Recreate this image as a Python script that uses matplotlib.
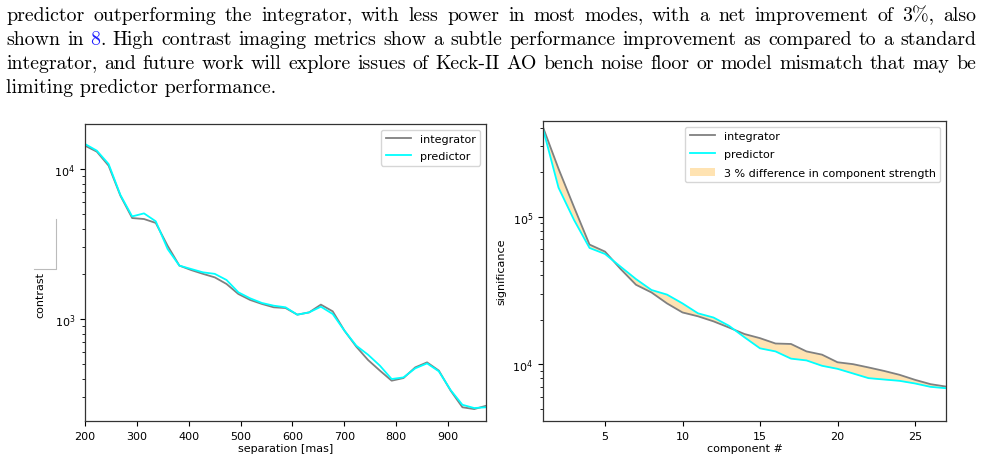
import matplotlib
matplotlib.use('Agg')
import matplotlib.pyplot as plt
from matplotlib.lines import Line2D

# ---- data ----
separation = [200.0, 222.8, 245.5, 268.3, 291.0, 313.8, 336.5, 359.3, 382.0, 404.8,
              427.5, 450.3, 473.0, 495.8, 518.5, 541.3, 564.0, 586.8, 609.5, 632.3,
              655.0, 677.8, 700.5, 723.3, 746.0, 768.8, 791.5, 814.3, 837.0, 859.8,
              882.5, 905.3, 928.0, 950.8, 973.5]
contrast_integrator = [14300, 13050, 10530, 6640, 4710, 4640, 4370, 3080, 2270, 2120,
                       2000, 1895, 1712, 1468, 1340, 1260, 1197, 1184, 1069, 1107,
                       1247, 1125, 836, 654, 533, 453, 388, 404, 476, 514,
                       453, 333, 258, 251, 264]
contrast_predictor = [14680, 13250, 10800, 6710, 4830, 5060, 4480, 2930, 2270, 2155,
                      2047, 2000, 1820, 1507, 1374, 1279, 1227, 1197, 1069, 1107,
                      1208, 1080, 836, 664, 578, 489, 398, 408, 469, 506,
                      448, 336, 268, 255, 258]

components = list(range(1, 28))
signif_integrator = [403e3, 211e3, 116e3, 64.6e3, 57.9e3, 44.2e3, 34.5e3, 30.6e3, 25.8e3,
                     22.4e3, 21.1e3, 19.5e3, 17.7e3, 16.0e3, 15.0e3, 13.8e3, 13.7e3,
                     12.2e3, 11.6e3, 10.3e3, 10.0e3, 9.5e3, 9.0e3, 8.47e3, 7.83e3,
                     7.32e3, 7.05e3]
signif_predictor = [393e3, 157e3, 94.9e3, 61.3e3, 55.8e3, 45.8e3, 37.7e3, 31.8e3, 29.6e3,
                    25.8e3, 22.1e3, 20.7e3, 18.2e3, 15.2e3, 12.8e3, 12.2e3, 10.9e3,
                    10.6e3, 9.75e3, 9.30e3, 8.65e3, 8.04e3, 7.87e3, 7.71e3, 7.4e3,
                    7.02e3, 6.87e3]

paragraph = [
    [[("predictor", "k")], [("outperforming", "k")], [("the", "k")], [("integrator,", "k")],
     [("with", "k")], [("less", "k")], [("power", "k")], [("in", "k")], [("most", "k")],
     [("modes,", "k")], [("with", "k")], [("a", "k")], [("net", "k")], [("improvement", "k")],
     [("of", "k")], [("3%,", "k")], [("also", "k")]],
    [[("shown", "k")], [("in", "k")], [("8", "#2020ff"), (".", "k")], [("High", "k")],
     [("contrast", "k")], [("imaging", "k")], [("metrics", "k")], [("show", "k")], [("a", "k")],
     [("subtle", "k")], [("performance", "k")], [("improvement", "k")], [("as", "k")],
     [("compared", "k")], [("to", "k")], [("a", "k")], [("standard", "k")]],
    [[(w, "k")] for w in "integrator, and future work will explore issues of Keck-II AO "
                          "bench noise floor or model mismatch that may be".split()],
]
last_line = "limiting predictor performance."

W, H = 983, 464
fig = plt.figure(figsize=(W / 100, H / 100), dpi=100)

FS_AX = 8
GRAY = "#808080"
CYAN = "#00ffff"


def style_axes(ax):
    ax.tick_params(labelsize=FS_AX, length=3.5, width=0.8)
    ax.tick_params(which="minor", length=2, width=0.6)
    for s in ax.spines.values():
        s.set_linewidth(0.9)
        s.set_color("#333333")


# left: contrast curve
ax1 = fig.add_axes([85 / W, 42 / H, 401 / W, 297 / H])
ax1.plot(separation, contrast_integrator, color=GRAY, lw=1.3, label="integrator")
ax1.plot(separation, contrast_predictor, color=CYAN, lw=1.3, label="predictor")
ax1.set_yscale("log")
ax1.set_xlim(200, 973.5)
ax1.set_ylim(209, 19950)
ax1.set_xlabel("separation [mas]", fontsize=FS_AX, labelpad=2)
ax1.set_ylabel("contrast", fontsize=FS_AX)
ax1.yaxis.set_label_coords(-0.1, 0.428)
ax1.legend(loc="upper right", fontsize=FS_AX, labelspacing=0.65, handlelength=2.3)
style_axes(ax1)

# right: component significance
ax2 = fig.add_axes([543 / W, 42 / H, 403 / W, 300 / H])
ax2.plot(components, signif_integrator, color=GRAY, lw=1.3, label="integrator")
ax2.plot(components, signif_predictor, color=CYAN, lw=1.3, label="predictor")
ax2.fill_between(components, signif_integrator, signif_predictor, color="orange",
                 alpha=0.3, lw=0, label="3 % difference in component strength")
ax2.set_yscale("log")
ax2.set_xlim(1, 27)
ax2.set_ylim(4120, 4.44e5)
ax2.set_xlabel("component #", fontsize=FS_AX, labelpad=2)
ax2.set_ylabel("significance", fontsize=FS_AX)
ax2.yaxis.set_label_coords(-0.092, 0.5)
ax2.legend(loc="upper right", fontsize=FS_AX, labelspacing=0.75, handlelength=2.3)
style_axes(ax2)

# stray bracket next to the contrast label in the original page
fig.add_artist(Line2D([34 / W, 56 / W, 56 / W], [1 - 270 / H, 1 - 270 / H, 1 - 220 / H],
                      color="#bbbbbb", lw=0.8))

# ---- paragraph above the plots, justified like the page ----
FONT = ["cmr10", "DejaVu Serif"]
FS = 14.3
left_px, right_px = 6, 976
baselines = [21, 45, 69, 93]

fig.canvas.draw()
renderer = fig.canvas.get_renderer()


def text_width(s):
    t = fig.text(0, 0, s, family=FONT, fontsize=FS)
    w = t.get_window_extent(renderer).width
    t.remove()
    return w


for line, base in zip(paragraph, baselines):
    widths = [[text_width(s) for s, _ in word] for word in line]
    total = sum(sum(w) for w in widths)
    gap = (right_px - left_px - total) / (len(line) - 1)
    x = left_px
    for word, ws in zip(line, widths):
        for (s, c), w in zip(word, ws):
            fig.text(x / W, 1 - base / H, s, family=FONT, fontsize=FS, color=c,
                     va="baseline", ha="left")
            x += w
        x += gap

fig.text(left_px / W, 1 - baselines[3] / H, last_line, family=FONT, fontsize=FS,
         va="baseline", ha="left")

fig.savefig("out.png", dpi=100)
